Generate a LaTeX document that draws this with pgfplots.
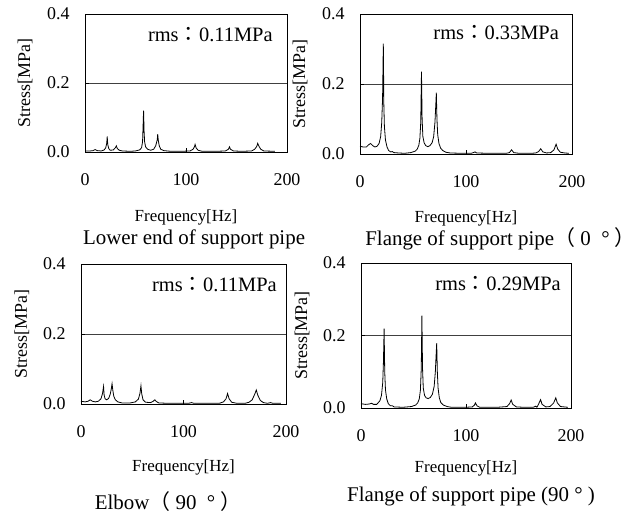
\documentclass[border=0pt]{standalone}
\usepackage{pgfplots}
\pgfplotsset{compat=1.18}
\usepackage{fontspec}
\setmainfont{Liberation Serif}
\newfontfamily\cjk{Noto Sans CJK JP}

\pgfplotsset{
  spec/.style={
    scale only axis,
    clip=false,
    xmin=0, xmax=200, ymin=0, ymax=0.4,
    xtick={0,100,200}, ytick={0,0.2,0.4},
    tick pos=left,
    tick align=inside,
    major tick length=4bp,
    tick style={black, line width=0.6bp},
    ymajorgrids,
    major grid style={black!75, line width=0.7bp},
    axis line style={black, line width=0.9bp},
    /pgf/number format/assume math mode=true,
    ticklabel style={font=\fontsize{18}{20}\selectfont},
    xticklabel style={yshift=-18bp},
    yticklabel style={xshift=-12bp, /pgf/number format/.cd, fixed, fixed zerofill, precision=1},
    xlabel={Frequency[Hz]},
    ylabel={Stress[MPa]},
    xlabel style={font=\fontsize{17}{19}\selectfont, anchor=center},
    ylabel style={font=\fontsize{18}{20}\selectfont, anchor=center},
  },
}
\tikzset{
  rmsnode/.style={anchor=east, font=\fontsize{20.5}{22}\selectfont, inner sep=0pt},
  capnode/.style={anchor=center, font=\fontsize{21}{23}\selectfont, inner sep=0pt},
  spline/.style={black, line width=0.8bp},
}

\begin{document}
\begin{tikzpicture}
\useasboundingbox (0,0) rectangle (640bp,514bp);

% Panel 1: Lower end of support pipe
\begin{axis}[spec, at={(85bp,362bp)}, anchor=south west, width=202bp, height=138bp,
  xlabel style={at={(axis description cs:0.5,-0.471)}},
  ylabel style={at={(axis description cs:-0.297,0.5)}}]
\addplot[spline, no markers] coordinates {
(0,0.003) (5,0.003) (8,0.004) (10,0.007) (12,0.004) (16,0.003) (19,0.006) (20.5,0.012) (21.5,0.025) (22,0.045) (22.5,0.022) (23.5,0.01) (25,0.005) (28,0.006) (30,0.012) (31,0.018) (32,0.01) (34,0.005) (37,0.003) (45,0.002) (50,0.003) (54,0.006) (56,0.012) (57,0.03) (58,0.12) (58.5,0.06) (59,0.03) (60,0.015) (62,0.008) (65,0.005) (68,0.008) (70,0.018) (71.5,0.035) (72,0.052) (72.5,0.035) (73.5,0.018) (75,0.008) (78,0.004) (85,0.002) (95,0.002) (104,0.003) (107,0.008) (108.5,0.016) (109,0.022) (110,0.012) (112,0.005) (116,0.002) (130,0.002) (139,0.003) (142,0.008) (143,0.015) (144,0.008) (147,0.003) (155,0.002) (165,0.003) (168,0.008) (170,0.016) (171,0.025) (172,0.018) (174,0.008) (177,0.003) (188,0.002)
};
\node[rmsnode] at (axis description cs:0.93,0.848) {rms{\cjk ：}0.11MPa};
\node[capnode] at (axis description cs:0.54,-0.63) {Lower end of support pipe};
\end{axis}

% Panel 2: Flange of support pipe (0 deg)
\begin{axis}[spec, at={(360bp,360bp)}, anchor=south west, width=212bp, height=140bp,
  xlabel style={at={(axis description cs:0.5,-0.457)}},
  ylabel style={at={(axis description cs:-0.283,0.5)}}]
\addplot[spline, no markers] coordinates {
(0,0.022) (3,0.02) (6,0.02) (8,0.026) (10,0.03) (12,0.024) (14,0.02) (16,0.022) (18,0.03) (19.5,0.05) (20.5,0.09) (21.3,0.16) (22,0.315) (22.5,0.14) (23,0.08) (24,0.04) (25.5,0.02) (27,0.01) (29,0.006) (30.5,0.007) (32,0.004) (36,0.003) (42,0.002) (48,0.004) (52,0.008) (54,0.014) (55.5,0.025) (56.5,0.045) (57.3,0.09) (58,0.235) (58.6,0.1) (59.3,0.05) (60.5,0.032) (62,0.024) (64,0.021) (66,0.024) (68,0.032) (69.5,0.05) (70.7,0.09) (71.5,0.14) (72,0.175) (72.6,0.1) (73.3,0.055) (74.5,0.03) (76,0.017) (78,0.01) (81,0.005) (85,0.003) (95,0.002) (105,0.002) (107,0.004) (108.5,0.006) (110,0.003) (120,0.002) (138,0.002) (141,0.004) (143,0.012) (145,0.004) (150,0.002) (162,0.002) (166,0.003) (168.5,0.007) (170.5,0.015) (172.5,0.006) (176,0.003) (180,0.004) (183,0.012) (185,0.028) (186.5,0.014) (189,0.005) (193,0.003) (197,0.002)
};
\node[rmsnode] at (axis description cs:0.939,0.864) {rms{\cjk ：}0.33MPa};
\node[capnode] at (axis description cs:0.663,-0.607) {Flange of support pipe{\cjk （}\ 0 \ °\ {\cjk ）}};
\end{axis}

% Panel 3: Elbow (90 deg)
\begin{axis}[spec, at={(81bp,110bp)}, anchor=south west, width=205bp, height=140bp,
  xlabel style={at={(axis description cs:0.5,-0.45)}},
  ylabel style={at={(axis description cs:-0.288,0.5)}}]
\addplot[spline, no markers] coordinates {
(0,0.008) (4,0.006) (7,0.008) (9,0.012) (11,0.008) (14,0.006) (17,0.008) (19.5,0.015) (21,0.03) (22,0.05) (22.6,0.025) (23.5,0.015) (25,0.012) (27,0.016) (28.5,0.028) (29.5,0.042) (30.3,0.058) (31,0.04) (32,0.022) (33.5,0.012) (36,0.006) (40,0.003) (48,0.003) (53,0.006) (56,0.014) (57.5,0.03) (58.5,0.052) (59.2,0.03) (60.5,0.012) (63,0.005) (68,0.004) (70.5,0.008) (72,0.012) (73.5,0.007) (76,0.003) (85,0.002) (105,0.002) (108,0.004) (110,0.002) (125,0.002) (135,0.002) (139,0.006) (141.5,0.015) (143,0.03) (144.5,0.015) (147,0.005) (152,0.002) (160,0.002) (164,0.005) (167,0.012) (169.5,0.028) (171,0.04) (172.5,0.025) (175,0.01) (178,0.004) (182,0.002) (185,0.004) (187,0.002) (195,0.002)
};
\node[rmsnode] at (axis description cs:0.956,0.85) {rms{\cjk ：}0.11MPa};
\node[capnode] at (axis description cs:0.425,-0.70) {Elbow{\cjk （}\ 90 \ °\ {\cjk ）}};
\end{axis}

% Panel 4: Flange of support pipe (90 deg)
\begin{axis}[spec, at={(361bp,106bp)}, anchor=south west, width=210bp, height=145bp,
  xlabel style={at={(axis description cs:0.5,-0.42)}},
  ylabel style={at={(axis description cs:-0.281,0.5)}}]
\addplot[spline, no markers] coordinates {
(0,0.012) (4,0.01) (8,0.011) (10,0.013) (12,0.01) (15,0.01) (18,0.02) (19.5,0.035) (20.7,0.07) (21.4,0.13) (22,0.219) (22.6,0.1) (23.3,0.05) (24.5,0.025) (26,0.012) (28,0.006) (30,0.006) (31.5,0.003) (40,0.002) (48,0.004) (52,0.008) (54,0.014) (55.5,0.025) (56.6,0.05) (57.4,0.11) (58,0.255) (58.6,0.11) (59.3,0.055) (60.5,0.035) (62,0.028) (64,0.026) (66,0.029) (68,0.038) (69.7,0.06) (70.8,0.1) (71.6,0.15) (72.1,0.179) (72.7,0.1) (73.4,0.055) (74.6,0.028) (76,0.015) (78.5,0.008) (82,0.004) (86,0.002) (100,0.002) (106,0.003) (108,0.008) (109,0.014) (110.5,0.006) (113,0.002) (130,0.002) (139,0.004) (141.5,0.012) (143,0.022) (144.5,0.01) (148,0.003) (155,0.002) (164,0.002) (166.5,0.005) (167.5,0.002) (169,0.01) (171,0.023) (172.5,0.01) (176,0.003) (180,0.004) (183.5,0.014) (185.5,0.028) (187,0.014) (190,0.004) (197,0.002)
};
\node[rmsnode] at (axis description cs:0.952,0.855) {rms{\cjk ：}0.29MPa};
\node[capnode] at (axis description cs:0.524,-0.607) {Flange of support pipe (90 ° )};
\end{axis}
\end{tikzpicture}
\end{document}
